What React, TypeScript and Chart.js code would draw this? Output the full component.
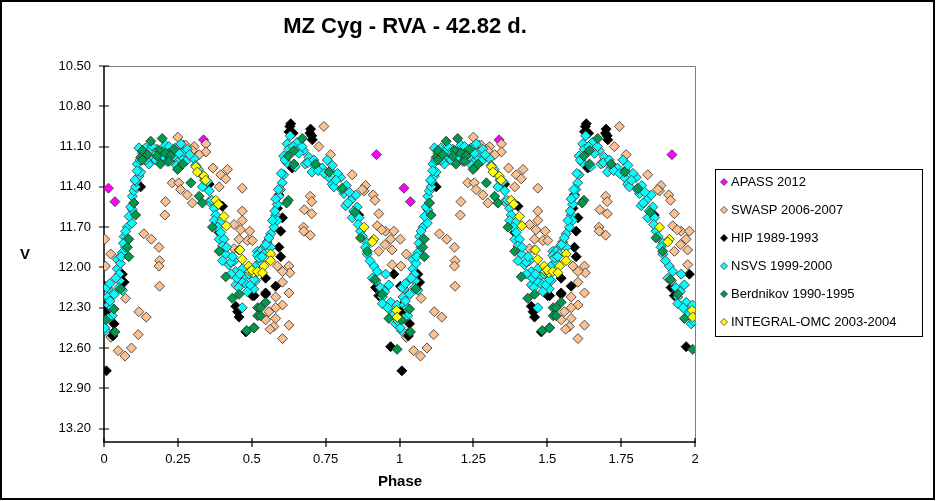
import React, { useEffect, useRef } from "react";
import { Chart, registerables } from "chart.js";

Chart.register(...registerables);

// ---- data (phase 0..1, copied to 1..2 as in the phase plot) ----
const TITLE = "MZ Cyg - RVA - 42.82 d.";
const X_TITLE = "Phase";
const Y_TITLE = "V";
const xTicks = [0, 0.25, 0.5, 0.75, 1, 1.25, 1.5, 1.75, 2];
const yTicks = [10.5, 10.8, 11.1, 11.4, 11.7, 12.0, 12.3, 12.6, 12.9, 13.2];
const seriesNames = [
  "APASS 2012",
  "SWASP 2006-2007",
  "HIP 1989-1993",
  "NSVS 1999-2000",
  "Berdnikov 1990-1995",
  "INTEGRAL-OMC 2003-2004",
];

const APASS = [[0.015, 11.41], [0.037, 11.51], [0.337, 11.05], [0.922, 11.16]];

const SWASP = [
  [0.25, 11.03], [0.231, 11.37], [0.253, 11.37], [0.259, 11.42], [0.208, 11.51], [0.206, 11.61],
  [0.135, 11.75], [0.16, 11.79], [0.186, 11.85], [0.188, 11.95], [0.186, 11.99], [0.188, 12.14],
  [0.023, 11.9], [0.073, 12.23], [0.118, 12.33], [0.143, 12.37], [0.116, 12.5], [0.023, 12.52],
  [0.048, 12.62], [0.071, 12.66], [0.093, 12.6], [0.003, 11.79], [0.005, 11.99],
  [0.27, 11.09], [0.277, 11.09], [0.305, 11.1], [0.345, 11.08], [0.345, 11.14], [0.322, 11.16],
  [0.299, 11.13], [0.369, 11.26], [0.395, 11.31], [0.418, 11.27], [0.412, 11.34], [0.39, 11.4],
  [0.468, 11.41], [0.282, 11.46], [0.299, 11.52], [0.468, 11.58], [0.468, 11.65], [0.44, 11.68],
  [0.462, 11.72], [0.493, 11.73], [0.485, 11.8], [0.457, 11.79], [0.44, 11.86],
  [0.744, 10.95], [0.727, 11.1], [0.767, 11.16], [0.698, 11.47], [0.703, 11.51], [0.678, 11.57],
  [0.703, 11.6], [0.675, 11.7], [0.676, 11.73], [0.698, 11.76], [0.626, 11.99], [0.629, 12.04],
  [0.587, 11.99], [0.604, 12.03], [0.604, 12.11], [0.626, 12.19], [0.581, 12.22], [0.604, 12.28],
  [0.581, 12.3], [0.558, 12.33], [0.547, 12.39], [0.581, 12.38], [0.575, 12.44], [0.562, 12.46],
  [0.626, 12.43], [0.604, 12.53], [0.502, 11.8],
  [0.84, 11.31], [0.885, 11.39], [0.911, 11.46], [0.88, 11.43], [0.93, 11.6], [0.925, 11.69],
  [0.953, 11.73], [0.981, 11.73], [0.951, 11.83], [0.975, 11.87], [0.975, 11.98], [0.93, 11.88],
  [0.874, 11.42], [0.917, 11.5], [0.94, 11.72], [0.97, 11.79],
];

const HIP = [
  [0.003, 12.14], [0.004, 12.29], [0.006, 12.34], [0.012, 12.37], [0.034, 12.42], [0.034, 12.48],
  [0.03, 12.51], [0.008, 12.77], [0.062, 12.05], [0.068, 12.11], [0.058, 12.16], [0.124, 11.4],
  [0.356, 11.38], [0.39, 11.53], [0.401, 11.545], [0.39, 11.74], [0.502, 12.21], [0.446, 12.29],
  [0.452, 12.33], [0.457, 12.37], [0.48, 12.48],
  [0.629, 10.95], [0.626, 10.99], [0.632, 10.93], [0.64, 11.0], [0.638, 11.25], [0.637, 11.26],
  [0.699, 10.97], [0.705, 11.05], [0.697, 11.0], [0.703, 11.02],
  [0.592, 11.46], [0.587, 11.56], [0.604, 11.63], [0.598, 11.73], [0.592, 11.85], [0.598, 11.92],
  [0.581, 12.14], [0.547, 12.08], [0.508, 12.21], [0.547, 12.19], [0.547, 12.2],
  [0.862, 11.61], [0.981, 12.05], [0.919, 12.15], [0.93, 12.21], [0.97, 12.59],
];

const NSVS = [
  [0.015, 12.16], [0.012, 12.22], [0.015, 12.28], [0.026, 12.3], [0.028, 12.36], [0.006, 12.47],
  [0.02, 12.25], [0.045, 11.94], [0.045, 12.01], [0.053, 12.1], [0.051, 12.05], [0.062, 12.17],
  [0.051, 12.15], [0.062, 11.89], [0.073, 11.85], [0.068, 11.77], [0.079, 11.7], [0.094, 11.67],
  [0.073, 11.73], [0.096, 11.57], [0.096, 11.47], [0.101, 11.43], [0.107, 11.4], [0.109, 11.36],
  [0.118, 11.32], [0.124, 11.29], [0.113, 11.23], [0.118, 11.11], [0.141, 11.11], [0.152, 11.23],
  [0.163, 11.18], [0.18, 11.12], [0.208, 11.09], [0.214, 11.21], [0.237, 11.18], [0.253, 11.21],
  [0.265, 11.18], [0.242, 11.11], [0.163, 11.1], [0.191, 11.2], [0.141, 11.2], [0.101, 11.52],
  [0.079, 11.79], [0.056, 11.97], [0.009, 12.15], [0.003, 12.45], [0.014, 12.38], [0.02, 12.12],
  [0.13, 11.15], [0.17, 11.15], [0.195, 11.14], [0.225, 11.14],
  [0.035, 12.2], [0.04, 12.08], [0.058, 11.92], [0.066, 11.82], [0.085, 11.62], [0.09, 11.55],
  [0.105, 11.35], [0.112, 11.28], [0.122, 11.2], [0.15, 11.14], [0.175, 11.2], [0.2, 11.17],
  [0.22, 11.1], [0.245, 11.24], [0.27, 11.14],
  [0.26, 11.08], [0.282, 11.12], [0.305, 11.19], [0.277, 11.21], [0.254, 11.15], [0.327, 11.3],
  [0.35, 11.36], [0.356, 11.43], [0.333, 11.4], [0.356, 11.51], [0.373, 11.56], [0.378, 11.61],
  [0.373, 11.65], [0.395, 11.66], [0.39, 11.79], [0.406, 11.79], [0.401, 11.84], [0.412, 11.9],
  [0.423, 11.98], [0.44, 11.95], [0.446, 12.03], [0.468, 12.01], [0.474, 12.07], [0.49, 12.05],
  [0.513, 12.1], [0.479, 12.12], [0.446, 12.13], [0.463, 12.1], [0.507, 12.16], [0.519, 11.88],
  [0.468, 12.3], [0.429, 11.96], [0.401, 11.95], [0.29, 11.16], [0.31, 11.24], [0.32, 11.27],
  [0.43, 12.05], [0.455, 12.15], [0.485, 12.18], [0.495, 12.13],
  [0.34, 11.35], [0.365, 11.5], [0.385, 11.7], [0.395, 11.74], [0.415, 11.85], [0.435, 11.92],
  [0.45, 12.08], [0.46, 12.05],
  [0.63, 11.02], [0.653, 11.07], [0.676, 11.13], [0.693, 11.18], [0.716, 11.25], [0.738, 11.26],
  [0.761, 11.33], [0.772, 11.38], [0.608, 11.17], [0.619, 11.22], [0.647, 11.25], [0.681, 11.23],
  [0.704, 11.29], [0.608, 11.31], [0.603, 11.37], [0.597, 11.42], [0.592, 11.47], [0.586, 11.53],
  [0.581, 11.61], [0.586, 11.65], [0.575, 11.7], [0.564, 11.75], [0.552, 11.81], [0.541, 11.85],
  [0.53, 11.88], [0.519, 11.91], [0.541, 11.9], [0.513, 11.99], [0.508, 12.09], [0.53, 11.96],
  [0.581, 11.49], [0.564, 11.85], [0.62, 11.08],
  [0.525, 11.93], [0.535, 11.92], [0.548, 11.83], [0.558, 11.78], [0.57, 11.65], [0.578, 11.58],
  [0.59, 11.42], [0.6, 11.3], [0.612, 11.2], [0.625, 11.12], [0.64, 11.1], [0.66, 11.15],
  [0.67, 11.1], [0.69, 11.22], [0.71, 11.2], [0.725, 11.28], [0.745, 11.3], [0.765, 11.28],
  [0.756, 11.2], [0.773, 11.24], [0.778, 11.4], [0.801, 11.33], [0.812, 11.45], [0.818, 11.54],
  [0.835, 11.5], [0.852, 11.46], [0.84, 11.63], [0.863, 11.63], [0.857, 11.55], [0.868, 11.73],
  [0.891, 11.82], [0.891, 11.9], [0.913, 11.99], [0.908, 12.08], [0.925, 12.03], [0.953, 12.05],
  [0.964, 12.13], [0.942, 12.22], [0.942, 12.27], [0.97, 12.26], [0.992, 12.28], [0.97, 12.32],
  [0.987, 12.42], [0.79, 11.3], [0.82, 11.39], [0.83, 11.44],
  [0.785, 11.35], [0.805, 11.42], [0.825, 11.52], [0.845, 11.58], [0.86, 11.68], [0.875, 11.77],
  [0.885, 11.85], [0.9, 11.95], [0.92, 12.1], [0.935, 12.15], [0.95, 12.18], [0.96, 12.3],
  [0.98, 12.35], [0.995, 12.4],
];

const BERDNIKOV = [
  [0.158, 11.06], [0.197, 11.04], [0.124, 11.18], [0.107, 11.61], [0.101, 11.52], [0.084, 11.79],
  [0.079, 11.85], [0.084, 11.92], [0.056, 12.16], [0.034, 12.31], [0.006, 12.39], [0.037, 12.48],
  [0.13, 11.13], [0.186, 11.13], [0.22, 11.15], [0.253, 11.26], [0.191, 11.23], [0.147, 11.16],
  [0.18, 11.17], [0.208, 11.15], [0.225, 11.17], [0.13, 11.2], [0.22, 11.21], [0.237, 11.12],
  [0.249, 11.27], [0.266, 11.23], [0.294, 11.37], [0.322, 11.47], [0.333, 11.52], [0.367, 11.7],
  [0.39, 11.88], [0.412, 12.07], [0.434, 12.23], [0.457, 12.2], [0.483, 12.47], [0.507, 12.45],
  [0.52, 12.3], [0.52, 12.36],
  [0.671, 11.04], [0.643, 11.13], [0.624, 11.17], [0.643, 11.23], [0.716, 11.23], [0.762, 11.29],
  [0.624, 11.5], [0.618, 11.52], [0.547, 12.26], [0.53, 12.3], [0.53, 12.36], [0.508, 12.45],
  [0.806, 11.41], [0.849, 11.59], [0.868, 11.78], [0.891, 11.88], [0.917, 12.09], [0.942, 12.2],
  [0.964, 12.38], [0.992, 12.61],
];

const INTEGRAL = [
  [0.311, 11.25], [0.316, 11.29], [0.338, 11.32], [0.344, 11.35], [0.378, 11.5], [0.387, 11.53],
  [0.406, 11.62], [0.414, 11.69], [0.457, 11.87], [0.46, 11.87], [0.468, 11.94], [0.49, 11.99],
  [0.494, 12.03], [0.505, 12.04], [0.5, 12.02], [0.519, 12.03], [0.542, 11.99], [0.564, 11.9],
  [0.564, 11.95], [0.536, 12.04], [0.88, 11.7], [0.913, 11.79], [0.908, 11.81], [0.99, 12.32],
  [0.992, 12.37],
];

const seriesData = [APASS, SWASP, HIP, NSVS, BERDNIKOV, INTEGRAL];
const fillColors = ["#FF00FF", "#FAC090", "#000000", "#00FFFF", "#009A4E", "#FFFF00"];
const edgeColors = ["#404040", "#404040", "#000000", "#404040", "#303030", "#404040"];

const FONT = "'Liberation Sans', Arial, sans-serif";

function twoCycles(arr: number[][]) {
  const pts = arr.map(([p, v]) => ({ x: p, y: v }));
  return pts.concat(arr.map(([p, v]) => ({ x: p + 1, y: v })));
}

function diamond(ctx: CanvasRenderingContext2D, x: number, y: number, r: number) {
  ctx.beginPath();
  ctx.moveTo(x, y - r);
  ctx.lineTo(x + r, y);
  ctx.lineTo(x, y + r);
  ctx.lineTo(x - r, y);
  ctx.closePath();
}

const decorPlugin = {
  id: "decor",
  beforeDatasetsDraw(chart: any) {
    const { ctx, chartArea } = chart;
    const { left, right, top, bottom } = chartArea;
    const xs = chart.scales.x;
    const ys = chart.scales.y;
    ctx.save();
    ctx.lineWidth = 1;
    ctx.strokeStyle = "#808080";
    ctx.beginPath();
    ctx.moveTo(left, Math.round(top) + 0.5);
    ctx.lineTo(Math.round(right) + 0.5, Math.round(top) + 0.5);
    ctx.lineTo(Math.round(right) + 0.5, bottom);
    ctx.stroke();
    ctx.strokeStyle = "#000000";
    ctx.lineWidth = 1.5;
    ctx.beginPath();
    ctx.moveTo(Math.round(left), top);
    ctx.lineTo(Math.round(left), Math.round(bottom));
    ctx.lineTo(right + 1, Math.round(bottom));
    ctx.stroke();
    ctx.lineWidth = 1.2;
    ctx.beginPath();
    yTicks.forEach((v) => {
      const py = Math.round(ys.getPixelForValue(v));
      ctx.moveTo(left - 5, py);
      ctx.lineTo(left + 5, py);
    });
    xTicks.forEach((v) => {
      const px = Math.round(xs.getPixelForValue(v));
      ctx.moveTo(px, bottom - 4);
      ctx.lineTo(px, bottom + 5);
    });
    ctx.stroke();
    ctx.restore();
  },
  afterDraw(chart: any) {
    const { ctx } = chart;
    ctx.save();
    ctx.fillStyle = "#000";
    ctx.textAlign = "center";
    ctx.textBaseline = "alphabetic";
    ctx.font = `bold 22px ${FONT}`;
    ctx.fillText(TITLE, 405, 33);
    ctx.font = `bold 15px ${FONT}`;
    ctx.textBaseline = "middle";
    ctx.fillText(X_TITLE, 400, 482);
    ctx.fillText(Y_TITLE, 25, 255);
    ctx.lineWidth = 1;
    ctx.strokeStyle = "#000";
    ctx.strokeRect(715.5, 169.5, 207, 167);
    ctx.font = `13px ${FONT}`;
    ctx.textAlign = "left";
    chart.data.datasets.forEach((ds: any, i: number) => {
      const cy = 182 + i * 28;
      diamond(ctx, 724, cy, 3.5);
      ctx.fillStyle = ds.backgroundColor;
      ctx.fill();
      ctx.strokeStyle = ds.borderColor;
      ctx.lineWidth = 0.8;
      ctx.stroke();
      ctx.fillStyle = "#000";
      ctx.fillText(ds.label, 731, cy + 0.5);
    });
    ctx.strokeStyle = "#000";
    ctx.lineWidth = 2;
    ctx.strokeRect(1, 1, 933, 498);
    ctx.restore();
  },
};

export default function App() {
  const ref = useRef<HTMLCanvasElement | null>(null);
  useEffect(() => {
    document.body.style.margin = "0";
    const canvas = ref.current!;
    const chart = new Chart(canvas, {
      type: "scatter",
      data: {
        datasets: seriesData.map((arr, i) => ({
          label: seriesNames[i],
          data: twoCycles(arr),
          pointStyle: "rectRot",
          pointRadius: 5,
          pointHoverRadius: 5,
          backgroundColor: fillColors[i],
          borderColor: edgeColors[i],
          borderWidth: 0.9,
          showLine: false,
          order: seriesData.length - 1 - i,
        })),
      },
      options: {
        animation: false,
        responsive: false,
        devicePixelRatio: 1,
        events: [],
        layout: { padding: { top: 66, right: 241, left: 0, bottom: 0 } },
        plugins: { legend: { display: false }, tooltip: { enabled: false }, title: { display: false } },
        scales: {
          x: {
            type: "linear",
            min: 0,
            max: 2,
            grid: { display: false, drawTicks: false },
            border: { display: false },
            afterFit: (s: any) => { s.height = 59; },
            afterBuildTicks: (s: any) => { s.ticks = xTicks.map((v) => ({ value: v })); },
            ticks: {
              padding: 10,
              color: "#000",
              font: { family: FONT, size: 13 },
              maxRotation: 0,
              callback: (v: any) => String(Number(v)),
            },
          },
          y: {
            type: "linear",
            reverse: true,
            min: 10.5,
            max: 13.3,
            grid: { display: false, drawTicks: false },
            border: { display: false },
            afterFit: (s: any) => { s.width = 104; },
            afterBuildTicks: (s: any) => { s.ticks = yTicks.map((v) => ({ value: v })); },
            ticks: {
              padding: 13,
              color: "#000",
              font: { family: FONT, size: 13 },
              callback: (v: any) => Number(v).toFixed(2),
            },
          },
        },
      },
      plugins: [decorPlugin],
    });
    return () => chart.destroy();
  }, []);
  return (
    <canvas ref={ref} width={936} height={501} style={{ display: "block", width: 936, height: 501 }} />
  );
}
